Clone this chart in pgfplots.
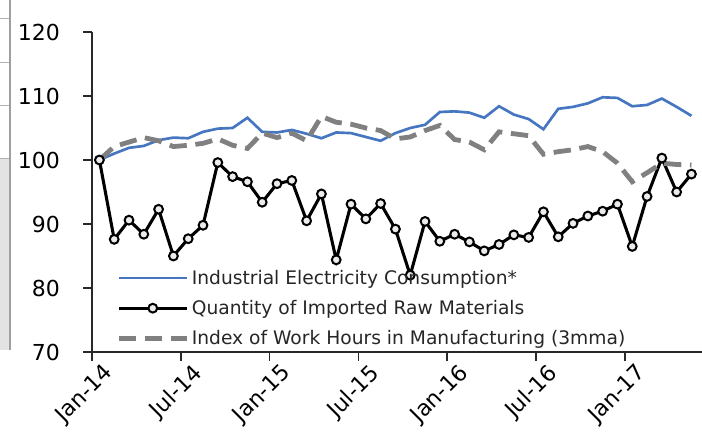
\documentclass[border=0pt]{standalone}
\usepackage{pgfplots}
\pgfplotsset{compat=1.18}
\usepackage{pgfplotstable}
\usepackage{fontspec}
\setmainfont{DejaVu Sans}
\definecolor{eblue}{RGB}{70,118,192}
\definecolor{egray}{RGB}{128,128,128}
\definecolor{axgray}{RGB}{40,40,40}
\pgfplotstableread{
x elec imp hours
0.5 100.0 100.0 100.0
1.5 101.0 87.6 102.1
2.5 101.9 90.6 102.8
3.5 102.2 88.4 103.5
4.5 103.1 92.3 103.0
5.5 103.5 85.0 102.1
6.5 103.4 87.7 102.3
7.5 104.4 89.8 102.6
8.5 104.9 99.6 103.3
9.5 105.0 97.4 102.3
10.5 106.6 96.6 101.8
11.5 104.4 93.4 104.2
12.5 104.3 96.3 103.5
13.5 104.7 96.8 104.2
14.5 104.1 90.5 103.0
15.5 103.4 94.7 106.8
16.5 104.3 84.4 105.9
17.5 104.2 93.1 105.6
18.5 103.6 90.8 105.0
19.5 103.0 93.2 104.6
20.5 104.2 89.2 103.3
21.5 105.0 82.0 103.6
22.5 105.5 90.4 104.6
23.5 107.5 87.3 105.4
24.5 107.6 88.4 103.2
25.5 107.4 87.2 102.8
26.5 106.6 85.8 101.6
27.5 108.4 86.8 104.4
28.5 107.1 88.3 104.1
29.5 106.4 87.9 103.8
30.5 104.8 91.9 100.9
31.5 108.0 88.0 101.3
32.5 108.3 90.1 101.6
33.5 108.85 91.25 102.1
34.5 109.8 92.0 101.3
35.5 109.7 93.1 99.5
36.5 108.4 86.5 96.6
37.5 108.6 94.3 98.0
38.5 109.6 100.3 99.5
39.5 108.3 95.0 99.3
40.5 106.9 97.8 99.2
}\datatable
\begin{document}
\begin{tikzpicture}[x=0.75pt,y=0.75pt]
\useasboundingbox (0,0) rectangle (702,439);
\fill[gray!22] (0,89) rectangle (10,281);
\draw[gray!75, line width=0.9pt] (10,439) -- (10,89);
\draw[gray!60, line width=0.6pt] (0,421) -- (9,421);
\draw[gray!60, line width=0.6pt] (0,377) -- (9,377);
\draw[gray!60, line width=0.6pt] (0,334) -- (9,334);
\draw[gray!60, line width=0.6pt] (0,281) -- (9,281);
\begin{axis}[
  at={(69pt,65.25pt)}, anchor=south west,
  scale only axis, width=457.35pt, height=240pt,
  xmin=0, xmax=41.2, ymin=70, ymax=120,
  axis x line=bottom, axis y line=left,
  axis line style={-, axgray, line width=1.3pt},
  xtick={0,6,...,36},
  xticklabels={Jan-14,Jul-14,Jan-15,Jul-15,Jan-16,Jul-16,Jan-17},
  ytick={70,80,...,120},
  tick align=outside, major tick length=6.5pt,
  tick style={axgray, line width=1.3pt},
  /pgf/number format/assume math mode=true,
  every tick label/.append style={font=\fontsize{16.5}{19}\selectfont, text=black},
  yticklabel style={xshift=-14pt},
  xticklabel style={rotate=45, anchor=north east, xshift=8pt, yshift=-3pt},
  clip=false,
  legend style={at={(0.033,0.274)}, anchor=north west, draw=none, fill=none,
    font=\fontsize{14}{16}\selectfont, text=black!85, row sep=6.5pt,
    legend cell align=left},
  legend image code/.code={\draw[mark repeat=2,mark phase=2,#1] plot coordinates {(0pt,0pt) (25.5pt,0pt) (51pt,0pt)};},
]
\addplot[eblue, line width=2pt, no markers] table[x=x,y=elec] {\datatable};
\addlegendentry{Industrial Electricity Consumption*}
\addplot[black, line width=2.3pt, mark=*, mark size=3.3pt, mark options={fill=white!85!gray, line width=1.5pt}] table[x=x,y=imp] {\datatable};
\addlegendentry{Quantity of Imported Raw Materials}
\addplot[egray, line width=3.6pt, dash pattern=on 13pt off 6.5pt, no markers] table[x=x,y=hours] {\datatable};
\addlegendentry{Index of Work Hours in Manufacturing (3mma)}
\end{axis}
\end{tikzpicture}
\end{document}
